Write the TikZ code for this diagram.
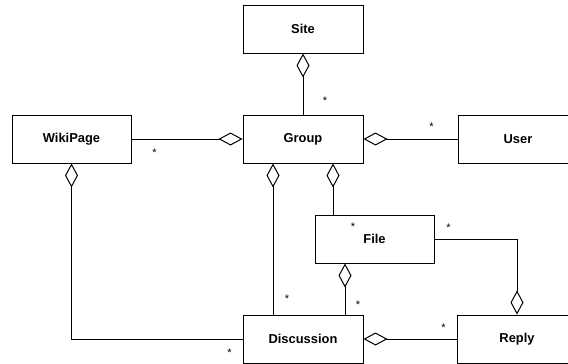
\documentclass[tikz,border=0pt]{standalone}
\usepackage{fontspec}
\setmainfont{Liberation Sans}
\usepackage{tikz}
\usetikzlibrary{arrows.meta,calc}
\tikzset{klasse/.style={draw, line width=1pt, minimum width=120pt, minimum height=48pt, inner sep=0pt, font=\fontsize{12.9}{15}\selectfont\bfseries},
    agg/.style={{Diamond[open, length=24pt, width=13pt]}-, line width=1pt},
    mult/.style={inner sep=0pt, font=\fontsize{11}{13}\selectfont}}

\begin{document}
\begin{tikzpicture}[x=1pt, y=-1pt]
    \clip (0,0) rectangle (568,364);
    \node [klasse] (site) at (303,29) {Site};
    \node [klasse] (group) at (303,139) {Group};
    \node [klasse, minimum width=119pt] (wiki) at (71.5,139) {WikiPage};
    \node [klasse] (user) at (518,139) {User};
    \node [klasse, minimum width=119pt] (file) at (374.5,239) {File};
    \node [klasse] (disc) at (303,339) {Discussion};
    \node [klasse] (reply) at (517,339) {Reply};
    \draw [agg] (site) -- (group);
    \draw [agg] (group) -- (wiki);
    \draw [agg] (group) -- (user);
    \draw [agg] (wiki) |- (disc);
    \draw [agg] ([xshift=-30pt] group.south) coordinate (g1) -- (g1 |- disc.north);
    \draw [agg] ([xshift=30pt] group.south) coordinate (g2) -- (g2 |- file.north);
    \draw [agg] ([xshift=-29.5pt] file.south) coordinate (f1) -- (f1 |- disc.north);
    \draw [agg] (reply) |- (file);
    \draw [agg] (disc) -- (reply);
    \node [mult] (m1) at ($(group.north) + (22,-14)$) {*};
    \node [mult] (m2) at ($(wiki.east) + (23,14)$) {*};
    \node [mult] (m3) at ($(user.west) + (-26,-12)$) {*};
    \node [mult] (m4) at ($(disc.west) + (-13,14)$) {*};
    \node [mult] (m5) at ($(g1 |- disc.north) + (14,-16)$) {*};
    \node [mult] (m6) at ($(g2 |- file.north) + (20,12)$) {*};
    \node [mult] (m7) at ($(f1 |- disc.north) + (13,-10)$) {*};
    \node [mult] (m8) at ($(file.east) + (14,-11)$) {*};
    \node [mult] (m9) at ($(reply.west) + (-13,-11)$) {*};
\end{tikzpicture}
\end{document}
